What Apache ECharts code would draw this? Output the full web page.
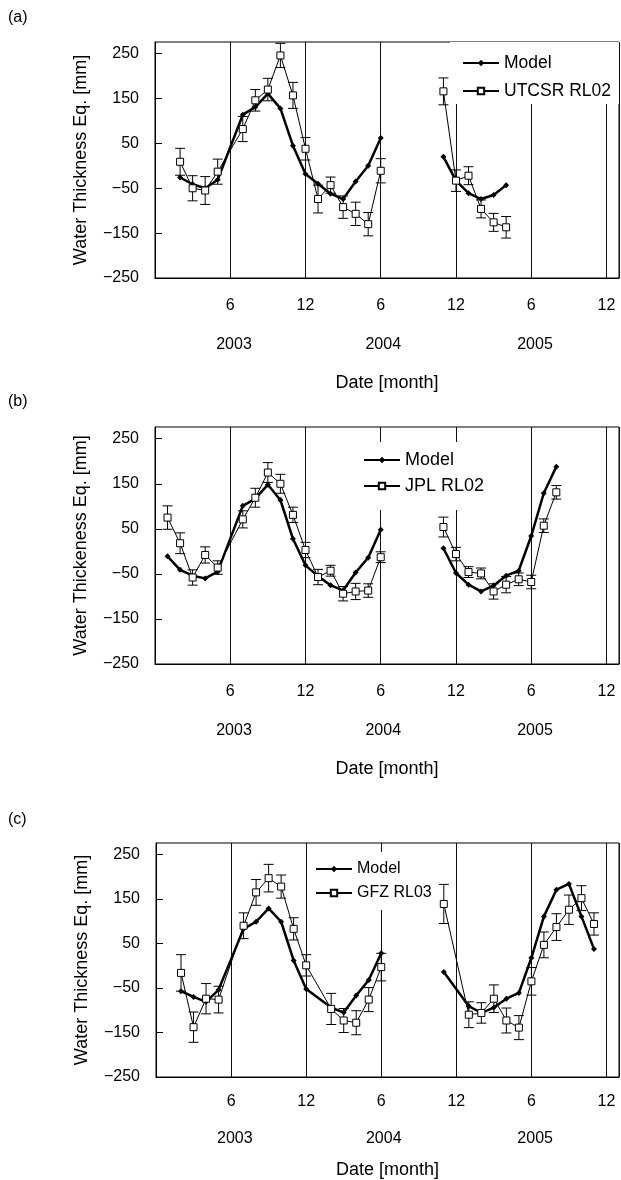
<!DOCTYPE html>
<html>
<head>
<meta charset="utf-8">
<title>Water Thickness Eq.</title>
<script src="https://cdn.jsdelivr.net/npm/echarts@6/dist/echarts.min.js"></script>
<style>
html, body { margin: 0; padding: 0; background: #fff; }
#chart { width: 621px; height: 1180px; }
</style>
</head>
<body>
<div id="chart"></div>
<script>
// month index: Jan 2003 = 1 ... Dec 2005 = 36, null = gap in the record
var monthsA = [2, 3, 4, 5, 7, 8, 9, 10, 11, 12, 13, 14, 15, 16, 17, 18, null, 23, 24, 25, 26, 27, 28];
var modelA  = [-26, -41, -50, -31, 114, 131, 161, 128, 45, -18, -40, -62, -74, -35, 0, 62, null, 20, -33, -61, -74, -65, -43];
var csrA    = [9, -50, -55, -13, 82, 146, 170, 246, 157, 38, -74, -43, -92, -107, -130, -11, null, 166, -33, -22, -96, -126, -137];
var csrErrA = [30, 28, 31, 28, 28, 24, 25, 27, 29, 25, 31, 18, 25, 26, 26, 27, null, 30, 24, 20, 20, 20, 24];

var monthsB = [1, 2, 3, 4, 5, 7, 8, 9, 10, 11, 12, 13, 14, 15, 16, 17, 18, null, 23, 24, 25, 26, 27, 28, 29, 30, 31, 32];
var modelB  = [-11, -41, -54, -60, -45, 101, 117, 148, 114, 28, -31, -55, -75, -87, -47, -14, 48, null, 7, -48, -74, -89, -76, -54, -43, 34, 129, 188];
var jplB    = [75, 18, -58, -8, -36, 71, 119, 175, 150, 81, 3, -57, -43, -94, -89, -87, -13, null, 54, -6, -46, -49, -89, -74, -62, -68, 57, 131];
var jplErrB = [26, 23, 17, 18, 15, 19, 21, 22, 21, 17, 17, 17, 12, 16, 18, 15, 12, null, 22, 15, 12, 12, 17, 18, 14, 15, 15, 15];

var monthsC = [2, 3, 4, 5, 7, 8, 9, 10, 11, 12, 14, 15, 16, 17, 18, null, 23, 25, 26, 27, 28, 29, 30, 31, 32, 33, 34, 35];
var modelC  = [-57, -70, -81, -54, 83, 99, 129, 99, 12, -52, -94, -105, -67, -32, 28, null, -14, -91, -106, -94, -74, -61, 18, 111, 171, 184, 111, 38];
var gfzC    = [-16, -138, -74, -76, 90, 165, 197, 178, 83, 1, -97, -123, -128, -76, -3, null, 139, -110, -106, -74, -123, -139, -35, 47, 87, 126, 152, 94];
var gfzErrC = [41, 34, 34, 30, 29, 29, 31, 26, 25, 24, 35, 27, 27, 27, 31, null, 44, 29, 23, 31, 28, 27, 31, 29, 30, 33, 28, 25];

var monthTicks = [6, 12, 18, 24, 30, 36];
var yearTicks  = [6.3, 18.2, 30.3];
var yearLabels = ['2003', '2004', '2005'];

var FONT = 'Liberation Sans';

var panels = [
    {
        label: '(a)', labelTop: 10, obsName: 'UTCSR RL02', yName: 'Water Thickness Eq. [mm]',
        months: monthsA, model: modelA, obs: csrA, err: csrErrA,
        grid: {left: 155, right: 2, top: 42, height: 236},
        monthMargin: 20, yearMargin: 59, dateGap: 96,
        legend: {left: 450, top: 42, padding: [11, 8, 3, 12], itemGap: 8, fontSize: 17.5, lineHeight: 20}
    },
    {
        label: '(b)', labelTop: 394, obsName: 'JPL RL02', yName: 'Water Thickeness Eq. [mm]',
        months: monthsB, model: modelB, obs: jplB, err: jplErrB,
        grid: {left: 155, right: 2, top: 427, height: 237},
        monthMargin: 20, yearMargin: 59, dateGap: 96,
        legend: {left: 350, top: 442, padding: [8, 12, 14, 13], itemGap: 6, fontSize: 18, lineHeight: 20}
    },
    {
        label: '(c)', labelTop: 812, obsName: 'GFZ RL03', yName: 'Water Thickness Eq. [mm]',
        months: monthsC, model: modelC, obs: gfzC, err: gfzErrC,
        grid: {left: 156, right: 2, top: 843, height: 234},
        monthMargin: 17, yearMargin: 54, dateGap: 84,
        legend: {left: 310, top: 852, padding: [8, 5, 8, 5], itemGap: 6, fontSize: 16, lineHeight: 18}
    }
];

function pairs(xs, ys) {
    return xs.map(function (x, i) {
        return [x, ys[i]];
    });
}

function errorBar(params, api) {
    var x = api.value(0);
    var v = api.value(1);
    var e = api.value(2);
    if (isNaN(x) || isNaN(v)) {
        return;
    }
    var hi = api.coord([x, v + e]);
    var lo = api.coord([x, v - e]);
    var w = 5;
    var style = {stroke: '#000', lineWidth: 1};
    return {
        type: 'group',
        children: [
            {type: 'line', shape: {x1: hi[0], y1: hi[1], x2: lo[0], y2: lo[1]}, style: style},
            {type: 'line', shape: {x1: hi[0] - w, y1: hi[1], x2: hi[0] + w, y2: hi[1]}, style: style},
            {type: 'line', shape: {x1: lo[0] - w, y1: lo[1], x2: lo[0] + w, y2: lo[1]}, style: style}
        ]
    };
}

var option = {
    animation: false,
    backgroundColor: '#fff',
    textStyle: {fontFamily: FONT, color: '#000'},
    grid: [],
    xAxis: [],
    yAxis: [],
    legend: [],
    series: [],
    graphic: []
};

panels.forEach(function (p, i) {
    option.grid.push({
        left: p.grid.left, right: p.grid.right, top: p.grid.top, height: p.grid.height,
        show: true, borderColor: '#000', borderWidth: 1,
        outerBoundsMode: 'none', containLabel: false
    });

    // month axis with vertical grid lines
    option.xAxis.push({
        type: 'value', gridIndex: i, min: 0, max: 37, interval: 6, position: 'bottom',
        axisLine: {show: true, onZero: false, lineStyle: {color: '#000', width: 1}},
        axisTick: {show: false},
        splitLine: {show: true, lineStyle: {color: '#111', width: 1}},
        axisLabel: {
            customValues: monthTicks,
            margin: p.monthMargin,
            fontSize: 16, fontFamily: FONT, color: '#000',
            formatter: function (v) { return String((v - 1) % 12 + 1); }
        }
    });
    // year row + axis title
    option.xAxis.push({
        type: 'value', gridIndex: i, min: 0, max: 37, position: 'bottom',
        axisLine: {show: false, onZero: false},
        axisTick: {show: false},
        splitLine: {show: false},
        axisLabel: {
            customValues: yearTicks,
            margin: p.yearMargin,
            fontSize: 16, fontFamily: FONT, color: '#000',
            formatter: function (v) { return yearLabels[yearTicks.indexOf(v)]; }
        },
        name: 'Date [month]', nameLocation: 'middle', nameGap: p.dateGap,
        nameTextStyle: {fontSize: 18, fontFamily: FONT, color: '#000'}
    });

    option.yAxis.push({
        type: 'value', gridIndex: i, min: -250, max: 276, interval: 100,
        axisLine: {show: true, onZero: false, lineStyle: {color: '#000', width: 1}},
        axisTick: {show: true, inside: true, length: 7, lineStyle: {color: '#000'}},
        splitLine: {show: false},
        axisLabel: {
            margin: 16, fontSize: 16, fontFamily: FONT, color: '#000',
            showMaxLabel: false,
            formatter: function (v) { return v < 0 ? '\u2212' + (-v) : String(v); }
        },
        name: p.yName, nameLocation: 'middle', nameGap: 65,
        nameTextStyle: {fontSize: 18, fontFamily: FONT, color: '#000'}
    });

    option.legend.push({
        orient: 'vertical', left: p.legend.left, top: p.legend.top,
        padding: p.legend.padding, itemGap: p.legend.itemGap,
        itemWidth: 36, itemHeight: 8,
        backgroundColor: '#fff', z: 10, selectedMode: false,
        textStyle: {fontSize: p.legend.fontSize, lineHeight: p.legend.lineHeight, fontFamily: FONT, color: '#000'},
        data: ['Model', p.obsName]
    });

    option.series.push({
        type: 'line', name: 'Model', xAxisIndex: i * 2, yAxisIndex: i,
        data: pairs(p.months, p.model),
        symbol: 'diamond', symbolSize: 6, connectNulls: false,
        lineStyle: {color: '#000', width: 2.5},
        itemStyle: {color: '#000'},
        silent: true, z: 2
    });
    option.series.push({
        type: 'custom', xAxisIndex: i * 2, yAxisIndex: i,
        data: p.months.map(function (m, k) {
            return [m, p.obs[k], p.err[k]];
        }).filter(function (d) { return d[0] !== null; }),
        encode: {x: 0, y: 1},
        renderItem: errorBar,
        silent: true, z: 3
    });
    option.series.push({
        type: 'line', name: p.obsName, xAxisIndex: i * 2, yAxisIndex: i,
        data: pairs(p.months, p.obs),
        symbol: 'rect', symbolSize: 7, connectNulls: false,
        lineStyle: {color: '#000', width: 1},
        itemStyle: {color: '#fff', borderColor: '#000', borderWidth: 1},
        silent: true, z: 4
    });

    option.graphic.push({
        type: 'text', left: 8, top: p.labelTop,
        style: {text: p.label, fontSize: 16, fontFamily: FONT, fill: '#000'}
    });
});

var chart = echarts.init(document.getElementById('chart'));
chart.setOption(option);
</script>
</body>
</html>
